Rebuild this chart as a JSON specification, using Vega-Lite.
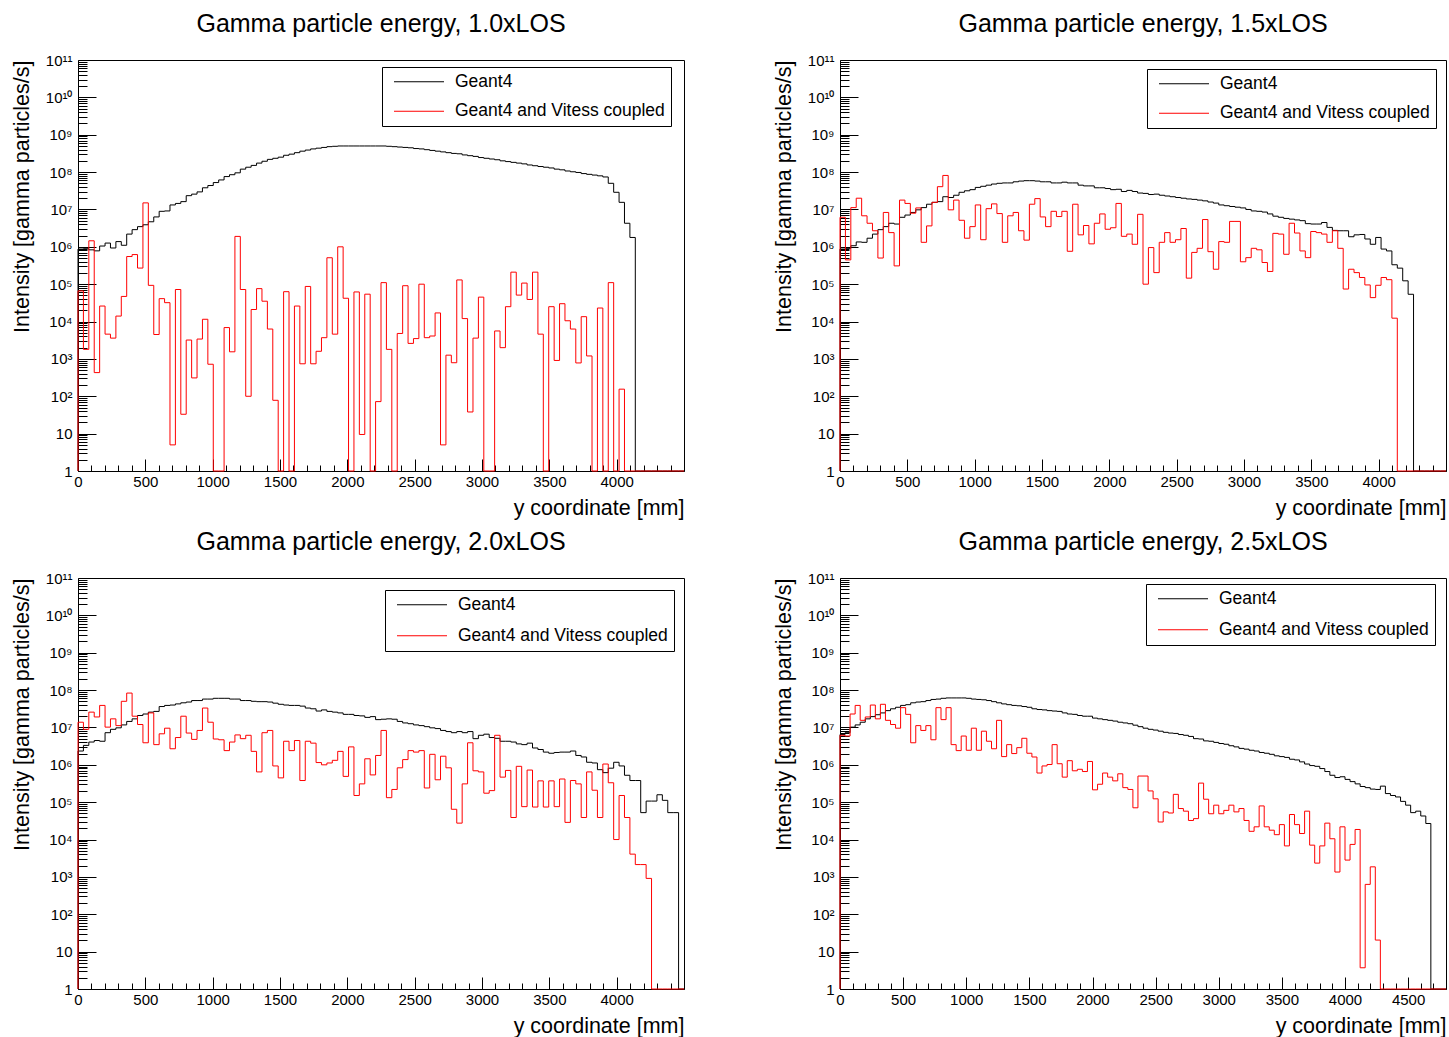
{
"$schema": "https://vega.github.io/schema/vega-lite/v6.json",
"background": "white",
"padding": {"left": 10, "top": 11, "right": 0, "bottom": 0},
"datasets": {
"p1": [
{"x":0,"g":1,"v":1},
{"x":0,"g":8.7e5,"v":6.6e4},{"x":40.2,"g":8.9e5,"v":1.8e3},{"x":80.4,"g":8.3e5,"v":1.45e6},{"x":120.5,"g":7.8e5,"v":430},{"x":160.7,"g":1.05e6,"v":2.6e4},{"x":200.9,"g":1.26e6,"v":4600},{"x":241.1,"g":9.3e5,"v":3600},{"x":281.3,"g":1.38e6,"v":1.4e4},{"x":321.4,"g":1.1e6,"v":4.7e4},{"x":361.6,"g":2.19e6,"v":5.5e5},
{"x":401.8,"g":2.88e6,"v":6.2e5},{"x":442,"g":3.47e6,"v":2.7e5},{"x":482.1,"g":3.89e6,"v":1.5e7},{"x":522.3,"g":4.68e6,"v":9.3e4},{"x":562.5,"g":6.31e6,"v":4500},{"x":602.7,"g":8.91e6,"v":4.1e4},{"x":642.9,"g":9.12e6,"v":3.2e4},{"x":683,"g":1.32e7,"v":5},{"x":723.2,"g":1.45e7,"v":7.2e4},{"x":763.4,"g":1.62e7,"v":33},
{"x":803.6,"g":2.34e7,"v":3200},{"x":843.8,"g":2.57e7,"v":310},{"x":883.9,"g":2.95e7,"v":3400},{"x":924.1,"g":3.8e7,"v":1.15e4},{"x":964.3,"g":4.37e7,"v":720},{"x":1004.5,"g":5.25e7,"v":1},{"x":1044.6,"g":6.17e7,"v":1},{"x":1084.8,"g":7.59e7,"v":6900},{"x":1125,"g":8.51e7,"v":1550},{"x":1165.2,"g":9.55e7,"v":1.9e6},
{"x":1205.4,"g":1.2e8,"v":7.2e4},{"x":1245.5,"g":1.35e8,"v":100},{"x":1285.7,"g":1.51e8,"v":2.1e4},{"x":1325.9,"g":1.74e8,"v":7.6e4},{"x":1366.1,"g":1.95e8,"v":3.5e4},{"x":1406.3,"g":2.19e8,"v":6300},{"x":1446.4,"g":2.34e8,"v":78},{"x":1486.6,"g":2.51e8,"v":1},{"x":1526.8,"g":2.82e8,"v":6.3e4},{"x":1567,"g":3.02e8,"v":1},
{"x":1607.1,"g":3.31e8,"v":2.6e4},{"x":1647.3,"g":3.63e8,"v":740},{"x":1687.5,"g":3.89e8,"v":8.7e4},{"x":1727.7,"g":4.17e8,"v":740},{"x":1767.9,"g":4.37e8,"v":1600},{"x":1808,"g":4.57e8,"v":3700},{"x":1848.2,"g":4.79e8,"v":5.1e5},{"x":1888.4,"g":4.9e8,"v":4600},{"x":1928.6,"g":5.0e8,"v":1.0e6},{"x":1968.8,"g":5.0e8,"v":4.2e4},
{"x":2008.9,"g":5.0e8,"v":1},{"x":2049.1,"g":5.0e8,"v":6.2e4},{"x":2089.3,"g":5.0e8,"v":9.5},{"x":2129.5,"g":5.0e8,"v":5.4e4},{"x":2169.6,"g":5.0e8,"v":1},{"x":2209.8,"g":5.0e8,"v":72},{"x":2250,"g":5.0e8,"v":1.1e5},{"x":2290.2,"g":4.9e8,"v":1800},{"x":2330.4,"g":4.79e8,"v":1},{"x":2370.5,"g":4.68e8,"v":4800},
{"x":2410.7,"g":4.57e8,"v":9.1e4},{"x":2450.9,"g":4.47e8,"v":2600},{"x":2491.1,"g":4.27e8,"v":3500},{"x":2531.3,"g":4.17e8,"v":1.0e5},{"x":2571.4,"g":3.98e8,"v":3700},{"x":2611.6,"g":3.8e8,"v":4100},{"x":2651.8,"g":3.63e8,"v":1.7e4},{"x":2692,"g":3.47e8,"v":5},{"x":2732.1,"g":3.31e8,"v":1260},{"x":2772.3,"g":3.16e8,"v":790},
{"x":2812.5,"g":3.09e8,"v":1.3e5},{"x":2852.7,"g":2.88e8,"v":1.2e4},{"x":2892.9,"g":2.75e8,"v":38},{"x":2933,"g":2.63e8,"v":3600},{"x":2973.2,"g":2.45e8,"v":4.5e4},{"x":3013.4,"g":2.34e8,"v":1},{"x":3053.6,"g":2.24e8,"v":1},{"x":3093.8,"g":2.14e8,"v":5600},{"x":3133.9,"g":2.0e8,"v":2000},{"x":3174.1,"g":1.91e8,"v":2.5e4},
{"x":3214.3,"g":1.82e8,"v":2.1e5},{"x":3254.5,"g":1.74e8,"v":5.1e4},{"x":3294.6,"g":1.66e8,"v":1.07e5},{"x":3334.8,"g":1.55e8,"v":3.9e4},{"x":3375,"g":1.48e8,"v":2.1e5},{"x":3415.2,"g":1.41e8,"v":4600},{"x":3455.4,"g":1.35e8,"v":1},{"x":3495.5,"g":1.29e8,"v":2.5e4},{"x":3535.7,"g":1.2e8,"v":910},{"x":3575.9,"g":1.15e8,"v":3.0e4},
{"x":3616.1,"g":1.07e8,"v":1.05e4},{"x":3656.3,"g":1.02e8,"v":6300},{"x":3696.4,"g":9.77e7,"v":780},{"x":3736.6,"g":9.12e7,"v":1.35e4},{"x":3776.8,"g":8.71e7,"v":1200},{"x":3817,"g":8.32e7,"v":1},{"x":3857.1,"g":7.94e7,"v":2.3e4},{"x":3897.3,"g":7.41e7,"v":1},{"x":3937.5,"g":5.01e7,"v":1.1e5},{"x":3977.7,"g":2.88e7,"v":1},
{"x":4017.9,"g":1.55e7,"v":155},{"x":4058,"g":4.27e6,"v":1},{"x":4098.2,"g":1.78e6,"v":1},{"x":4138.4,"g":1,"v":1},{"x":4178.6,"g":1,"v":1},{"x":4218.8,"g":1,"v":1},{"x":4258.9,"g":1,"v":1},{"x":4299.1,"g":1,"v":1},{"x":4339.3,"g":1,"v":1},{"x":4379.5,"g":1,"v":1},
{"x":4419.6,"g":1,"v":1},{"x":4459.8,"g":1,"v":1},{"x":4500,"g":1,"v":1}
],
"p2": [
{"x":0,"g":1,"v":1},
{"x":0,"g":8.7e5,"v":6.17e6},{"x":40.2,"g":9.1e5,"v":4.47e5},{"x":80.4,"g":1.07e6,"v":1.12e7},{"x":120.5,"g":1.35e6,"v":2.0e7},{"x":160.7,"g":1.32e6,"v":6.76e6},{"x":200.9,"g":1.7e6,"v":4.27e6},{"x":241.1,"g":2.19e6,"v":2.69e6},{"x":281.3,"g":2.88e6,"v":5.01e5},{"x":321.4,"g":3.47e6,"v":8.32e6},{"x":361.6,"g":4.27e6,"v":2.4e6},
{"x":401.8,"g":4.07e6,"v":3.09e5},{"x":442,"g":6.17e6,"v":1.78e7},{"x":482.1,"g":7.08e6,"v":1.45e7},{"x":522.3,"g":8.32e6,"v":7.94e6},{"x":562.5,"g":9.77e6,"v":1.1e7},{"x":602.7,"g":1.12e7,"v":1.32e6},{"x":642.9,"g":1.38e7,"v":3.63e6},{"x":683,"g":1.55e7,"v":1.55e7},{"x":723.2,"g":1.62e7,"v":4.07e7},{"x":763.4,"g":2.19e7,"v":8.13e7},
{"x":803.6,"g":2.09e7,"v":9.77e6},{"x":843.8,"g":2.4e7,"v":1.78e7},{"x":883.9,"g":2.88e7,"v":5.13e6},{"x":924.1,"g":3.16e7,"v":1.7e6},{"x":964.3,"g":3.39e7,"v":3.47e6},{"x":1004.5,"g":3.89e7,"v":1.32e7},{"x":1044.6,"g":4.17e7,"v":1.55e6},{"x":1084.8,"g":4.47e7,"v":1.05e7},{"x":1125,"g":4.79e7,"v":1.41e7},{"x":1165.2,"g":5.01e7,"v":7.76e6},
{"x":1205.4,"g":5.13e7,"v":1.32e6},{"x":1245.5,"g":5.13e7,"v":6.76e6},{"x":1285.7,"g":5.5e7,"v":8.32e6},{"x":1325.9,"g":5.75e7,"v":2.69e6},{"x":1366.1,"g":5.89e7,"v":1.51e6},{"x":1406.3,"g":5.89e7,"v":1.38e7},{"x":1446.4,"g":5.75e7,"v":1.95e7},{"x":1486.6,"g":5.5e7,"v":6.31e6},{"x":1526.8,"g":5.5e7,"v":3.47e6},{"x":1567,"g":5.13e7,"v":8.91e6},
{"x":1607.1,"g":5.13e7,"v":6.46e6},{"x":1647.3,"g":5.37e7,"v":8.91e6},{"x":1687.5,"g":5.13e7,"v":7.59e5},{"x":1727.7,"g":5.13e7,"v":1.38e7},{"x":1767.9,"g":4.47e7,"v":2.09e6},{"x":1808,"g":4.27e7,"v":3.72e6},{"x":1848.2,"g":4.27e7,"v":1.2e6},{"x":1888.4,"g":3.8e7,"v":4.27e6},{"x":1928.6,"g":3.8e7,"v":7.59e6},{"x":1968.8,"g":3.63e7,"v":2.95e6},
{"x":2008.9,"g":3.39e7,"v":3.24e6},{"x":2049.1,"g":3.47e7,"v":1.45e7},{"x":2089.3,"g":3.02e7,"v":1.91e6},{"x":2129.5,"g":3.24e7,"v":2.19e6},{"x":2169.6,"g":3.02e7,"v":1.17e6},{"x":2209.8,"g":2.75e7,"v":7.41e6},{"x":2250,"g":2.69e7,"v":1.0e5},{"x":2290.2,"g":2.51e7,"v":9.55e5},{"x":2330.4,"g":2.57e7,"v":2.04e5},{"x":2370.5,"g":2.4e7,"v":1.32e6},
{"x":2410.7,"g":2.29e7,"v":2.4e6},{"x":2450.9,"g":2.19e7,"v":1.32e6},{"x":2491.1,"g":2.09e7,"v":1.55e6},{"x":2531.3,"g":2.0e7,"v":3.09e6},{"x":2571.4,"g":1.91e7,"v":1.45e5},{"x":2611.6,"g":1.86e7,"v":7.08e5},{"x":2651.8,"g":1.78e7,"v":9.12e5},{"x":2692,"g":1.7e7,"v":5.37e6},{"x":2732.1,"g":1.58e7,"v":7.41e5},{"x":2772.3,"g":1.48e7,"v":2.51e5},
{"x":2812.5,"g":1.32e7,"v":1.38e6},{"x":2852.7,"g":1.26e7,"v":1.32e6},{"x":2892.9,"g":1.2e7,"v":4.79e6},{"x":2933,"g":1.15e7,"v":4.79e6},{"x":2973.2,"g":1.1e7,"v":3.98e5},{"x":3013.4,"g":1.0e7,"v":5.13e5},{"x":3053.6,"g":9.12e6,"v":9.12e5},{"x":3093.8,"g":8.91e6,"v":8.32e5},{"x":3133.9,"g":8.51e6,"v":3.8e5},{"x":3174.1,"g":7.59e6,"v":2.19e5},
{"x":3214.3,"g":6.61e6,"v":2.29e6},{"x":3254.5,"g":6.17e6,"v":2.19e6},{"x":3294.6,"g":5.75e6,"v":6.31e5},{"x":3334.8,"g":5.5e6,"v":4.27e6},{"x":3375,"g":5.25e6,"v":2.34e6},{"x":3415.2,"g":5.01e6,"v":7.76e5},{"x":3455.4,"g":4.17e6,"v":5.13e5},{"x":3495.5,"g":4.07e6,"v":2.57e6},{"x":3535.7,"g":4.07e6,"v":2.4e6},{"x":3575.9,"g":4.47e6,"v":2.19e6},
{"x":3616.1,"g":3.31e6,"v":1.32e6},{"x":3656.3,"g":2.75e6,"v":2.69e6},{"x":3696.4,"g":2.69e6,"v":9.12e5},{"x":3736.6,"g":2.69e6,"v":7.41e4},{"x":3776.8,"g":1.86e6,"v":2.51e5},{"x":3817,"g":2.09e6,"v":2.04e5},{"x":3857.1,"g":2.14e6,"v":1.51e5},{"x":3897.3,"g":1.62e6,"v":9.55e4},{"x":3937.5,"g":1.17e6,"v":4.37e4},{"x":3977.7,"g":1.78e6,"v":9.33e4},
{"x":4017.9,"g":8.7e5,"v":1.51e5},{"x":4058,"g":7.76e5,"v":1.32e5},{"x":4098.2,"g":3.31e5,"v":1.23e4},{"x":4138.4,"g":2.69e5,"v":1},{"x":4178.6,"g":1.23e5,"v":1},{"x":4218.8,"g":5.37e4,"v":1},{"x":4258.9,"g":1,"v":1},{"x":4299.1,"g":1,"v":1},{"x":4339.3,"g":1,"v":1},{"x":4379.5,"g":1,"v":1},
{"x":4419.6,"g":1,"v":1},{"x":4459.8,"g":1,"v":1},{"x":4500,"g":1,"v":1}
],
"p3": [
{"x":0,"g":1,"v":1},
{"x":0,"g":2.34e6,"v":1.38e7},{"x":40.2,"g":3.31e6,"v":8.91e6},{"x":80.4,"g":4.07e6,"v":2.57e7},{"x":120.5,"g":4.47e6,"v":1.91e7},{"x":160.7,"g":4.27e6,"v":3.89e7},{"x":200.9,"g":7.24e6,"v":1.02e7},{"x":241.1,"g":8.91e6,"v":1.7e7},{"x":281.3,"g":9.77e6,"v":1.12e7},{"x":321.4,"g":1.17e7,"v":5.01e7},{"x":361.6,"g":1.45e7,"v":8.32e7},
{"x":401.8,"g":1.7e7,"v":2.0e7},{"x":442,"g":2.09e7,"v":1.2e7},{"x":482.1,"g":2.29e7,"v":3.89e6},{"x":522.3,"g":2.57e7,"v":2.45e7},{"x":562.5,"g":2.69e7,"v":3.47e6},{"x":602.7,"g":3.63e7,"v":6.76e6},{"x":642.9,"g":3.89e7,"v":9.55e6},{"x":683,"g":3.98e7,"v":2.69e6},{"x":723.2,"g":4.27e7,"v":5.37e6},{"x":763.4,"g":4.57e7,"v":2.0e7},
{"x":803.6,"g":4.79e7,"v":7.08e6},{"x":843.8,"g":5.25e7,"v":4.79e6},{"x":883.9,"g":5.25e7,"v":8.32e6},{"x":924.1,"g":5.75e7,"v":3.31e7},{"x":964.3,"g":5.75e7,"v":1.38e7},{"x":1004.5,"g":6.03e7,"v":4.9e6},{"x":1044.6,"g":6.03e7,"v":4.68e6},{"x":1084.8,"g":6.03e7,"v":2.4e6},{"x":1125,"g":5.75e7,"v":4.07e6},{"x":1165.2,"g":5.75e7,"v":6.31e6},
{"x":1205.4,"g":5.25e7,"v":5.01e6},{"x":1245.5,"g":5.25e7,"v":6.17e6},{"x":1285.7,"g":5.01e7,"v":2.29e6},{"x":1325.9,"g":4.9e7,"v":6.46e5},{"x":1366.1,"g":4.9e7,"v":7.24e6},{"x":1406.3,"g":4.79e7,"v":8.32e6},{"x":1446.4,"g":4.47e7,"v":9.33e5},{"x":1486.6,"g":4.17e7,"v":4.47e5},{"x":1526.8,"g":3.98e7,"v":4.27e6},{"x":1567,"g":3.89e7,"v":2.4e6},
{"x":1607.1,"g":3.89e7,"v":4.47e6},{"x":1647.3,"g":3.72e7,"v":3.8e5},{"x":1687.5,"g":3.31e7,"v":4.27e6},{"x":1727.7,"g":3.16e7,"v":3.8e6},{"x":1767.9,"g":2.75e7,"v":1.15e6},{"x":1808,"g":2.95e7,"v":1.0e6},{"x":1848.2,"g":2.69e7,"v":1.12e6},{"x":1888.4,"g":2.57e7,"v":1.32e6},{"x":1928.6,"g":2.45e7,"v":2.29e6},{"x":1968.8,"g":2.24e7,"v":4.9e5},
{"x":2008.9,"g":2.24e7,"v":3.02e6},{"x":2049.1,"g":2.09e7,"v":1.51e5},{"x":2089.3,"g":2.04e7,"v":3.09e5},{"x":2129.5,"g":1.86e7,"v":1.45e6},{"x":2169.6,"g":1.95e7,"v":5.37e5},{"x":2209.8,"g":1.62e7,"v":1.78e6},{"x":2250,"g":1.66e7,"v":8.32e6},{"x":2290.2,"g":1.7e7,"v":1.32e5},{"x":2330.4,"g":1.66e7,"v":2.19e5},{"x":2370.5,"g":1.45e7,"v":8.32e5},
{"x":2410.7,"g":1.32e7,"v":1.38e6},{"x":2450.9,"g":1.26e7,"v":2.4e6},{"x":2491.1,"g":1.17e7,"v":2.19e6},{"x":2531.3,"g":1.12e7,"v":2.4e6},{"x":2571.4,"g":1.05e7,"v":2.4e5},{"x":2611.6,"g":9.77e6,"v":1.91e6},{"x":2651.8,"g":9.33e6,"v":3.98e5},{"x":2692,"g":8.32e6,"v":1.7e6},{"x":2732.1,"g":7.76e6,"v":8.32e5},{"x":2772.3,"g":7.24e6,"v":6.46e4},
{"x":2812.5,"g":7.76e6,"v":2.75e4},{"x":2852.7,"g":7.24e6,"v":3.09e5},{"x":2892.9,"g":7.76e6,"v":3.89e6},{"x":2933,"g":5.01e6,"v":6.92e5},{"x":2973.2,"g":6.17e6,"v":6.46e5},{"x":3013.4,"g":6.61e6,"v":1.74e5},{"x":3053.6,"g":5.37e6,"v":2.04e5},{"x":3093.8,"g":5.13e6,"v":6.17e6},{"x":3133.9,"g":4.27e6,"v":4.68e5},{"x":3174.1,"g":4.27e6,"v":7.08e5},
{"x":3214.3,"g":4.07e6,"v":3.89e4},{"x":3254.5,"g":3.63e6,"v":9.12e5},{"x":3294.6,"g":3.47e6,"v":7.59e4},{"x":3334.8,"g":3.8e6,"v":7.24e5},{"x":3375,"g":2.82e6,"v":7.41e4},{"x":3415.2,"g":2.57e6,"v":3.72e5},{"x":3455.4,"g":2.19e6,"v":7.41e4},{"x":3495.5,"g":2.04e6,"v":3.72e5},{"x":3535.7,"g":2.14e6,"v":7.59e4},{"x":3575.9,"g":2.19e6,"v":4.17e5},
{"x":3616.1,"g":2.19e6,"v":2.88e4},{"x":3656.3,"g":2.34e6,"v":3.8e5},{"x":3696.4,"g":1.78e6,"v":3.09e5},{"x":3736.6,"g":1.62e6,"v":3.89e4},{"x":3776.8,"g":1.17e6,"v":6.46e5},{"x":3817,"g":1.12e6,"v":2.09e5},{"x":3857.1,"g":7.41e5,"v":3.89e4},{"x":3897.3,"g":6.17e5,"v":1.05e6},{"x":3937.5,"g":8.13e5,"v":3.31e5},{"x":3977.7,"g":1.17e6,"v":1.0e4},
{"x":4017.9,"g":9.33e5,"v":1.51e5},{"x":4058,"g":5.25e5,"v":3.89e4},{"x":4098.2,"g":3.8e5,"v":4070},{"x":4138.4,"g":3.8e5,"v":2140},{"x":4178.6,"g":5.25e4,"v":2140},{"x":4218.8,"g":1.07e5,"v":912},{"x":4258.9,"g":1.07e5,"v":1},{"x":4299.1,"g":1.58e5,"v":1},{"x":4339.3,"g":1.12e5,"v":1},{"x":4379.5,"g":5.25e4,"v":1},
{"x":4419.6,"g":5.25e4,"v":1},{"x":4459.8,"g":1,"v":1},{"x":4500,"g":1,"v":1}
],
"p4": [
{"x":0,"g":1,"v":1},
{"x":0,"g":6.46e6,"v":6.17e6},{"x":40,"g":7.24e6,"v":5.89e6},{"x":80,"g":1.02e7,"v":2.29e7},{"x":120,"g":1.17e7,"v":3.89e7},{"x":160,"g":1.38e7,"v":1.55e7},{"x":200,"g":1.7e7,"v":1.91e7},{"x":240,"g":1.95e7,"v":3.98e7},{"x":280,"g":2.19e7,"v":1.7e7},{"x":320,"g":2.45e7,"v":4.17e7},{"x":360,"g":2.82e7,"v":1.55e7},
{"x":400,"g":3.16e7,"v":1.2e7},{"x":440,"g":3.47e7,"v":9.55e6},{"x":480,"g":3.89e7,"v":3.39e7},{"x":520,"g":4.07e7,"v":2.24e7},{"x":560,"g":4.57e7,"v":3.89e6},{"x":600,"g":4.79e7,"v":1.12e7},{"x":640,"g":4.9e7,"v":8.32e6},{"x":680,"g":5.25e7,"v":1.12e7},{"x":720,"g":5.62e7,"v":4.68e6},{"x":760,"g":5.75e7,"v":3.39e7},
{"x":800,"g":6.03e7,"v":1.62e7},{"x":840,"g":6.17e7,"v":3.39e7},{"x":880,"g":6.17e7,"v":3.47e6},{"x":920,"g":6.17e7,"v":2.4e6},{"x":960,"g":6.17e7,"v":5.89e6},{"x":1000,"g":6.03e7,"v":2.45e6},{"x":1040,"g":5.75e7,"v":9.55e6},{"x":1080,"g":5.62e7,"v":2.45e6},{"x":1120,"g":5.5e7,"v":7.94e6},{"x":1160,"g":5.25e7,"v":4.27e6},
{"x":1200,"g":4.9e7,"v":2.69e6},{"x":1240,"g":4.57e7,"v":1.55e7},{"x":1280,"g":4.27e7,"v":1.66e6},{"x":1320,"g":4.07e7,"v":3.47e6},{"x":1360,"g":3.89e7,"v":2.0e6},{"x":1400,"g":3.8e7,"v":2.88e6},{"x":1440,"g":3.63e7,"v":5.13e6},{"x":1480,"g":3.47e7,"v":2.04e6},{"x":1520,"g":3.16e7,"v":1.62e6},{"x":1560,"g":3.02e7,"v":6.03e5},
{"x":1600,"g":2.95e7,"v":9.33e5},{"x":1640,"g":2.82e7,"v":1.02e6},{"x":1680,"g":2.75e7,"v":3.47e6},{"x":1720,"g":2.69e7,"v":1.07e6},{"x":1760,"g":2.45e7,"v":4.68e5},{"x":1800,"g":2.29e7,"v":1.29e6},{"x":1840,"g":2.24e7,"v":6.92e5},{"x":1880,"g":2.09e7,"v":7.59e5},{"x":1920,"g":2.0e7,"v":6.61e5},{"x":1960,"g":2.0e7,"v":1.23e6},
{"x":2000,"g":1.78e7,"v":2.14e5},{"x":2040,"g":1.7e7,"v":3.02e5},{"x":2080,"g":1.62e7,"v":6.03e5},{"x":2120,"g":1.55e7,"v":4.68e5},{"x":2160,"g":1.48e7,"v":3.72e5},{"x":2200,"g":1.38e7,"v":5.75e5},{"x":2240,"g":1.32e7,"v":2.45e5},{"x":2280,"g":1.26e7,"v":2.19e5},{"x":2320,"g":1.15e7,"v":7.08e4},{"x":2360,"g":1.05e7,"v":5.01e5},
{"x":2400,"g":9.55e6,"v":5.01e5},{"x":2440,"g":8.91e6,"v":2.0e5},{"x":2480,"g":8.51e6,"v":1.23e5},{"x":2520,"g":7.94e6,"v":2.95e4},{"x":2560,"g":7.41e6,"v":5.5e4},{"x":2600,"g":7.08e6,"v":5.13e4},{"x":2640,"g":6.92e6,"v":1.62e5},{"x":2680,"g":6.46e6,"v":6.76e4},{"x":2720,"g":6.17e6,"v":5.75e4},{"x":2760,"g":5.75e6,"v":3.24e4},
{"x":2800,"g":5.01e6,"v":3.63e4},{"x":2840,"g":4.9e6,"v":3.24e5},{"x":2880,"g":4.37e6,"v":1.2e5},{"x":2920,"g":4.27e6,"v":4.9e4},{"x":2960,"g":3.98e6,"v":8.32e4},{"x":3000,"g":3.72e6,"v":4.9e4},{"x":3040,"g":3.55e6,"v":6.03e4},{"x":3080,"g":3.24e6,"v":8.32e4},{"x":3120,"g":3.02e6,"v":5.5e4},{"x":3160,"g":2.75e6,"v":6.76e4},
{"x":3200,"g":2.63e6,"v":3.24e4},{"x":3240,"g":2.45e6,"v":1.66e4},{"x":3280,"g":2.34e6,"v":2.19e4},{"x":3320,"g":2.14e6,"v":7.94e4},{"x":3360,"g":2.04e6,"v":2.19e4},{"x":3400,"g":1.91e6,"v":1.78e4},{"x":3440,"g":1.74e6,"v":1.35e4},{"x":3480,"g":1.66e6,"v":2.51e4},{"x":3520,"g":1.58e6,"v":6760},{"x":3560,"g":1.41e6,"v":4.68e4},
{"x":3600,"g":1.35e6,"v":2.51e4},{"x":3640,"g":1.2e6,"v":1.45e4},{"x":3680,"g":1.05e6,"v":5.75e4},{"x":3720,"g":9.55e5,"v":7080},{"x":3760,"g":9.12e5,"v":2340},{"x":3800,"g":7.94e5,"v":6760},{"x":3840,"g":6.61e5,"v":2.75e4},{"x":3880,"g":5.25e5,"v":1.05e4},{"x":3920,"g":4.57e5,"v":1350},{"x":3960,"g":4.79e5,"v":2.19e4},
{"x":4000,"g":4.07e5,"v":2820},{"x":4040,"g":3.55e5,"v":7410},{"x":4080,"g":3.09e5,"v":1.86e4},{"x":4120,"g":2.63e5,"v":3.7},{"x":4160,"g":2.45e5,"v":631},{"x":4200,"g":2.24e5,"v":1860},{"x":4240,"g":2.19e5,"v":20.4},{"x":4280,"g":2.69e5,"v":1},{"x":4320,"g":1.7e5,"v":1},{"x":4360,"g":1.51e5,"v":1},
{"x":4400,"g":1.38e5,"v":1},{"x":4440,"g":1.05e5,"v":1},{"x":4480,"g":8.32e4,"v":1},{"x":4520,"g":5.25e4,"v":1},{"x":4560,"g":5.75e4,"v":1},{"x":4600,"g":4.27e4,"v":1},{"x":4640,"g":2.69e4,"v":1},{"x":4680,"g":1,"v":1},{"x":4720,"g":1,"v":1},{"x":4760,"g":1,"v":1},
{"x":4800,"g":1,"v":1}
]
},
"vconcat": [
{"hconcat": [
{"width": 606, "height": 411,
 "title": {"text": "Gamma particle energy, 1.0xLOS", "offset": -4, "baseline": "alphabetic", "frame": "group"},
 "data": {"name": "p1"},
 "transform": [{"fold": ["g", "v"], "as": ["s", "val"]}],
 "mark": {"type": "line", "interpolate": "step-after", "strokeWidth": 1},
 "encoding": {
  "x": {"field": "x", "type": "quantitative", "scale": {"domain": [0, 4500], "nice": false, "zero": false},
   "axis": {"values": [0,100,200,300,400,500,600,700,800,900,1000,1100,1200,1300,1400,1500,1600,1700,1800,1900,2000,2100,2200,2300,2400,2500,2600,2700,2800,2900,3000,3100,3200,3300,3400,3500,3600,3700,3800,3900,4000,4100,4200,4300,4400,4500],
    "labelExpr": "(datum.value % 500 == 0 && datum.value <= 4000) ? format(datum.value, 'd') : ''",
    "tickSize": {"condition": {"test": "datum.value % 500 == 0", "value": -12}, "value": -6},
    "labelPadding": 15, "title": "y coordinate [mm]", "titleX": 606, "titleY": 43, "titleAlign": "right", "titleBaseline": "alphabetic"}},
  "y": {"field": "val", "type": "quantitative", "scale": {"type": "log", "domain": [1, 1e11], "nice": false},
   "axis": {"values": [1,2,3,4,5,6,7,8,9,10,20,30,40,50,60,70,80,90,100,200,300,400,500,600,700,800,900,1000,2000,3000,4000,5000,6000,7000,8000,9000,1e4,2e4,3e4,4e4,5e4,6e4,7e4,8e4,9e4,1e5,2e5,3e5,4e5,5e5,6e5,7e5,8e5,9e5,1e6,2e6,3e6,4e6,5e6,6e6,7e6,8e6,9e6,1e7,2e7,3e7,4e7,5e7,6e7,7e7,8e7,9e7,1e8,2e8,3e8,4e8,5e8,6e8,7e8,8e8,9e8,1e9,2e9,3e9,4e9,5e9,6e9,7e9,8e9,9e9,1e10,2e10,3e10,4e10,5e10,6e10,7e10,8e10,9e10,1e11],
    "labelExpr": "(abs(log(datum.value)/LN10 - round(log(datum.value)/LN10)) < 0.001) ? (round(log(datum.value)/LN10) == 0 ? '1' : round(log(datum.value)/LN10) == 1 ? '10' : '10' + ['', '¹', '²', '³', '⁴', '⁵', '⁶', '⁷', '⁸', '⁹', '¹⁰', '¹¹'][round(log(datum.value)/LN10)]) : ''",
    "tickSize": {"condition": {"test": "abs(log(datum.value)/LN10 - round(log(datum.value)/LN10)) < 0.001", "value": -18}, "value": -9},
    "labelPadding": 24, "title": "Intensity [gamma particles/s]", "titleX": -49.5, "titleY": 0, "titleAngle": -90, "titleAlign": "right", "titleBaseline": "alphabetic"}},
  "color": {"field": "s", "type": "nominal", "scale": {"domain": ["g", "v"], "range": ["#000000", "#ff0000"]},
   "legend": {"title": null, "orient": "none", "legendX": 304, "legendY": 7, "labelExpr": "datum.label == 'g' ? 'Geant4' : 'Geant4 and Vitess coupled'", "symbolType": "M-0.55,0H9.45", "symbolSize": 100, "symbolStrokeWidth": 1, "labelOffset": 49.5, "padding": 6, "rowPadding": 10.5, "strokeColor": "#000000", "fillColor": "#ffffff", "labelFontSize": 17.5, "labelColor": "#000000", "labelLimit": 0}}
 }},
{"width": 606, "height": 411,
 "title": {"text": "Gamma particle energy, 1.5xLOS", "offset": -4, "baseline": "alphabetic", "frame": "group"},
 "data": {"name": "p2"},
 "transform": [{"fold": ["g", "v"], "as": ["s", "val"]}],
 "mark": {"type": "line", "interpolate": "step-after", "strokeWidth": 1},
 "encoding": {
  "x": {"field": "x", "type": "quantitative", "scale": {"domain": [0, 4500], "nice": false, "zero": false},
   "axis": {"values": [0,100,200,300,400,500,600,700,800,900,1000,1100,1200,1300,1400,1500,1600,1700,1800,1900,2000,2100,2200,2300,2400,2500,2600,2700,2800,2900,3000,3100,3200,3300,3400,3500,3600,3700,3800,3900,4000,4100,4200,4300,4400,4500],
    "labelExpr": "(datum.value % 500 == 0 && datum.value <= 4000) ? format(datum.value, 'd') : ''",
    "tickSize": {"condition": {"test": "datum.value % 500 == 0", "value": -12}, "value": -6},
    "labelPadding": 15, "title": "y coordinate [mm]", "titleX": 606, "titleY": 43, "titleAlign": "right", "titleBaseline": "alphabetic"}},
  "y": {"field": "val", "type": "quantitative", "scale": {"type": "log", "domain": [1, 1e11], "nice": false},
   "axis": {"values": [1,2,3,4,5,6,7,8,9,10,20,30,40,50,60,70,80,90,100,200,300,400,500,600,700,800,900,1000,2000,3000,4000,5000,6000,7000,8000,9000,1e4,2e4,3e4,4e4,5e4,6e4,7e4,8e4,9e4,1e5,2e5,3e5,4e5,5e5,6e5,7e5,8e5,9e5,1e6,2e6,3e6,4e6,5e6,6e6,7e6,8e6,9e6,1e7,2e7,3e7,4e7,5e7,6e7,7e7,8e7,9e7,1e8,2e8,3e8,4e8,5e8,6e8,7e8,8e8,9e8,1e9,2e9,3e9,4e9,5e9,6e9,7e9,8e9,9e9,1e10,2e10,3e10,4e10,5e10,6e10,7e10,8e10,9e10,1e11],
    "labelExpr": "(abs(log(datum.value)/LN10 - round(log(datum.value)/LN10)) < 0.001) ? (round(log(datum.value)/LN10) == 0 ? '1' : round(log(datum.value)/LN10) == 1 ? '10' : '10' + ['', '¹', '²', '³', '⁴', '⁵', '⁶', '⁷', '⁸', '⁹', '¹⁰', '¹¹'][round(log(datum.value)/LN10)]) : ''",
    "tickSize": {"condition": {"test": "abs(log(datum.value)/LN10 - round(log(datum.value)/LN10)) < 0.001", "value": -18}, "value": -9},
    "labelPadding": 24, "title": "Intensity [gamma particles/s]", "titleX": -49.5, "titleY": 0, "titleAngle": -90, "titleAlign": "right", "titleBaseline": "alphabetic"}},
  "color": {"field": "s", "type": "nominal", "scale": {"domain": ["g", "v"], "range": ["#000000", "#ff0000"]},
   "legend": {"title": null, "orient": "none", "legendX": 307, "legendY": 9, "labelExpr": "datum.label == 'g' ? 'Geant4' : 'Geant4 and Vitess coupled'", "symbolType": "M-0.55,0H9.45", "symbolSize": 100, "symbolStrokeWidth": 1, "labelOffset": 49.5, "padding": 6, "rowPadding": 10.5, "strokeColor": "#000000", "fillColor": "#ffffff", "labelFontSize": 17.5, "labelColor": "#000000", "labelLimit": 0}}
 }}
], "spacing": 85, "resolve": {"scale": {"color": "independent"}, "legend": {"color": "independent"}}},
{"hconcat": [
{"width": 606, "height": 411,
 "title": {"text": "Gamma particle energy, 2.0xLOS", "offset": -4, "baseline": "alphabetic", "frame": "group"},
 "data": {"name": "p3"},
 "transform": [{"fold": ["g", "v"], "as": ["s", "val"]}],
 "mark": {"type": "line", "interpolate": "step-after", "strokeWidth": 1},
 "encoding": {
  "x": {"field": "x", "type": "quantitative", "scale": {"domain": [0, 4500], "nice": false, "zero": false},
   "axis": {"values": [0,100,200,300,400,500,600,700,800,900,1000,1100,1200,1300,1400,1500,1600,1700,1800,1900,2000,2100,2200,2300,2400,2500,2600,2700,2800,2900,3000,3100,3200,3300,3400,3500,3600,3700,3800,3900,4000,4100,4200,4300,4400,4500],
    "labelExpr": "(datum.value % 500 == 0 && datum.value <= 4000) ? format(datum.value, 'd') : ''",
    "tickSize": {"condition": {"test": "datum.value % 500 == 0", "value": -12}, "value": -6},
    "labelPadding": 15, "title": "y coordinate [mm]", "titleX": 606, "titleY": 43, "titleAlign": "right", "titleBaseline": "alphabetic"}},
  "y": {"field": "val", "type": "quantitative", "scale": {"type": "log", "domain": [1, 1e11], "nice": false},
   "axis": {"values": [1,2,3,4,5,6,7,8,9,10,20,30,40,50,60,70,80,90,100,200,300,400,500,600,700,800,900,1000,2000,3000,4000,5000,6000,7000,8000,9000,1e4,2e4,3e4,4e4,5e4,6e4,7e4,8e4,9e4,1e5,2e5,3e5,4e5,5e5,6e5,7e5,8e5,9e5,1e6,2e6,3e6,4e6,5e6,6e6,7e6,8e6,9e6,1e7,2e7,3e7,4e7,5e7,6e7,7e7,8e7,9e7,1e8,2e8,3e8,4e8,5e8,6e8,7e8,8e8,9e8,1e9,2e9,3e9,4e9,5e9,6e9,7e9,8e9,9e9,1e10,2e10,3e10,4e10,5e10,6e10,7e10,8e10,9e10,1e11],
    "labelExpr": "(abs(log(datum.value)/LN10 - round(log(datum.value)/LN10)) < 0.001) ? (round(log(datum.value)/LN10) == 0 ? '1' : round(log(datum.value)/LN10) == 1 ? '10' : '10' + ['', '¹', '²', '³', '⁴', '⁵', '⁶', '⁷', '⁸', '⁹', '¹⁰', '¹¹'][round(log(datum.value)/LN10)]) : ''",
    "tickSize": {"condition": {"test": "abs(log(datum.value)/LN10 - round(log(datum.value)/LN10)) < 0.001", "value": -18}, "value": -9},
    "labelPadding": 24, "title": "Intensity [gamma particles/s]", "titleX": -49.5, "titleY": 0, "titleAngle": -90, "titleAlign": "right", "titleBaseline": "alphabetic"}},
  "color": {"field": "s", "type": "nominal", "scale": {"domain": ["g", "v"], "range": ["#000000", "#ff0000"]},
   "legend": {"title": null, "orient": "none", "legendX": 307, "legendY": 12, "labelExpr": "datum.label == 'g' ? 'Geant4' : 'Geant4 and Vitess coupled'", "symbolType": "M-0.55,0H9.45", "symbolSize": 100, "symbolStrokeWidth": 1, "labelOffset": 49.5, "padding": 6, "rowPadding": 12, "strokeColor": "#000000", "fillColor": "#ffffff", "labelFontSize": 17.5, "labelColor": "#000000", "labelLimit": 0}}
 }},
{"width": 606, "height": 411,
 "title": {"text": "Gamma particle energy, 2.5xLOS", "offset": -4, "baseline": "alphabetic", "frame": "group"},
 "data": {"name": "p4"},
 "transform": [{"fold": ["g", "v"], "as": ["s", "val"]}],
 "mark": {"type": "line", "interpolate": "step-after", "strokeWidth": 1},
 "encoding": {
  "x": {"field": "x", "type": "quantitative", "scale": {"domain": [0, 4800], "nice": false, "zero": false},
   "axis": {"values": [0,100,200,300,400,500,600,700,800,900,1000,1100,1200,1300,1400,1500,1600,1700,1800,1900,2000,2100,2200,2300,2400,2500,2600,2700,2800,2900,3000,3100,3200,3300,3400,3500,3600,3700,3800,3900,4000,4100,4200,4300,4400,4500,4600,4700,4800],
    "labelExpr": "(datum.value % 500 == 0 && datum.value <= 4500) ? format(datum.value, 'd') : ''",
    "tickSize": {"condition": {"test": "datum.value % 500 == 0", "value": -12}, "value": -6},
    "labelPadding": 15, "title": "y coordinate [mm]", "titleX": 606, "titleY": 43, "titleAlign": "right", "titleBaseline": "alphabetic"}},
  "y": {"field": "val", "type": "quantitative", "scale": {"type": "log", "domain": [1, 1e11], "nice": false},
   "axis": {"values": [1,2,3,4,5,6,7,8,9,10,20,30,40,50,60,70,80,90,100,200,300,400,500,600,700,800,900,1000,2000,3000,4000,5000,6000,7000,8000,9000,1e4,2e4,3e4,4e4,5e4,6e4,7e4,8e4,9e4,1e5,2e5,3e5,4e5,5e5,6e5,7e5,8e5,9e5,1e6,2e6,3e6,4e6,5e6,6e6,7e6,8e6,9e6,1e7,2e7,3e7,4e7,5e7,6e7,7e7,8e7,9e7,1e8,2e8,3e8,4e8,5e8,6e8,7e8,8e8,9e8,1e9,2e9,3e9,4e9,5e9,6e9,7e9,8e9,9e9,1e10,2e10,3e10,4e10,5e10,6e10,7e10,8e10,9e10,1e11],
    "labelExpr": "(abs(log(datum.value)/LN10 - round(log(datum.value)/LN10)) < 0.001) ? (round(log(datum.value)/LN10) == 0 ? '1' : round(log(datum.value)/LN10) == 1 ? '10' : '10' + ['', '¹', '²', '³', '⁴', '⁵', '⁶', '⁷', '⁸', '⁹', '¹⁰', '¹¹'][round(log(datum.value)/LN10)]) : ''",
    "tickSize": {"condition": {"test": "abs(log(datum.value)/LN10 - round(log(datum.value)/LN10)) < 0.001", "value": -18}, "value": -9},
    "labelPadding": 24, "title": "Intensity [gamma particles/s]", "titleX": -49.5, "titleY": 0, "titleAngle": -90, "titleAlign": "right", "titleBaseline": "alphabetic"}},
  "color": {"field": "s", "type": "nominal", "scale": {"domain": ["g", "v"], "range": ["#000000", "#ff0000"]},
   "legend": {"title": null, "orient": "none", "legendX": 306, "legendY": 6, "labelExpr": "datum.label == 'g' ? 'Geant4' : 'Geant4 and Vitess coupled'", "symbolType": "M-0.55,0H9.45", "symbolSize": 100, "symbolStrokeWidth": 1, "labelOffset": 49.5, "padding": 6, "rowPadding": 12, "strokeColor": "#000000", "fillColor": "#ffffff", "labelFontSize": 17.5, "labelColor": "#000000", "labelLimit": 0}}
 }}
], "spacing": 85, "resolve": {"scale": {"color": "independent"}, "legend": {"color": "independent"}}}
],
"spacing": 10,
"resolve": {"scale": {"color": "independent"}, "legend": {"color": "independent"}},
"config": {
 "font": "Liberation Sans",
 "view": {"stroke": "#000000", "strokeWidth": 1},
 "axis": {"domain": false, "grid": false, "tickColor": "#000000", "tickWidth": 1, "labelColor": "#000000", "labelFont": "Liberation Sans", "labelFontSize": 15, "titleColor": "#000000", "titleFont": "Liberation Sans", "titleFontSize": 21.5, "titleFontWeight": "normal", "labelOverlap": false, "labelFlush": false},
 "title": {"font": "Liberation Sans", "fontSize": 25, "fontWeight": "normal", "color": "#000000", "anchor": "middle"},
 "legend": {"labelFont": "Liberation Sans"}
}
}
